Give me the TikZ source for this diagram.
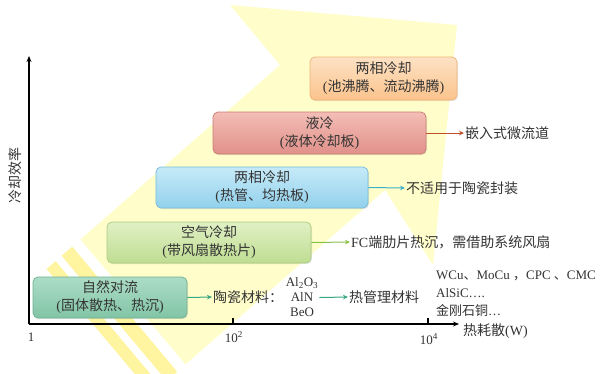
\documentclass[tikz,border=0pt]{standalone}
\usepackage{fontspec}
\setmainfont{Liberation Serif}
\newfontfamily\cjk{Noto Sans CJK SC}
\usetikzlibrary{arrows.meta,shadows}
\definecolor{ybody}{HTML}{FFFECA}
\definecolor{ystripe}{HTML}{FFF4A0}
\definecolor{txt}{HTML}{333333}
\definecolor{orT}{HTML}{FDE2C4}\definecolor{orB}{HTML}{FBC38C}\definecolor{orD}{HTML}{EDB27A}
\definecolor{reT}{HTML}{F3BDB5}\definecolor{reB}{HTML}{E0918A}\definecolor{reD}{HTML}{C97C74}
\definecolor{blT}{HTML}{C6EAF8}\definecolor{blB}{HTML}{92D1EC}\definecolor{blD}{HTML}{74BADA}
\definecolor{grT}{HTML}{E0F0C4}\definecolor{grB}{HTML}{BFDD92}\definecolor{grD}{HTML}{A8CB80}
\definecolor{teT}{HTML}{ACDDC6}\definecolor{teB}{HTML}{82C4A6}\definecolor{teD}{HTML}{6FAF92}
\definecolor{arRe}{HTML}{C0502A}
\definecolor{arBl}{HTML}{3FAFC8}
\definecolor{arGr}{HTML}{8CC04C}
\definecolor{arTe}{HTML}{36A584}
\begin{document}
\begin{tikzpicture}[x=1pt,y=-1pt,
  box/.style n args={3}{rounded corners=5pt, draw=#3, line width=0.7pt,
    top color=#1, bottom color=#2, align=center, text=txt, inner sep=1pt,
    font=\cjk\fontsize{14}{18}\selectfont,
    drop shadow={opacity=0.18, shadow xshift=1pt, shadow yshift=-1.2pt}},
  lbl/.style={anchor=west, inner sep=1pt, text=txt, font=\fontsize{14}{17}\selectfont},
  conn/.style={line width=1pt, -{Stealth[length=5pt,width=4.5pt]}},
  axisline/.style={line width=1.6pt, black},
]
\useasboundingbox (0,0) rectangle (609,373);
% background yellow arrow
\begin{scope}
\clip (0,0) rectangle (609,373);
\fill[ybody]
  (230,5) -- (457,25) -- (433,265) -- (385,190) -- (185.5,364.4)
  -- (80.5,239.4) -- (280,65) -- cycle;
\fill[ystripe] (72.2,246.6) -- (61.6,255.8) -- (166.6,380.8) -- (177.2,371.6) -- cycle;
\fill[ystripe] (55.6,261.1) -- (46.6,269) -- (151.6,394) -- (160.6,386.1) -- cycle;
\end{scope}
% axes
\coordinate (O) at (29,324);
\coordinate (ytop) at (29,56);
\coordinate (xend) at (459,324);
\coordinate (tk2) at (233,324);
\coordinate (tk4) at (428,324);
\draw[axisline, -{Stealth[length=6pt,width=5pt]}] (O) -- (ytop);
\draw[axisline, -{Stealth[length=6pt,width=5pt]}] (O) -- (xend);
\draw[axisline] (tk2) -- ++(0,-6);
\draw[axisline] (tk4) -- ++(0,-6);
\node[text=txt, font=\fontsize{13}{15}\selectfont] (l1) at (31,337) {1};
\node[text=txt, font=\fontsize{13}{15}\selectfont] (l2) at (234,337) {10\textsuperscript{2}};
\node[text=txt, font=\fontsize{13}{15}\selectfont] (l4) at (429,339) {10\textsuperscript{4}};
\node[lbl] (xlab) at (462,331) {{\cjk 热耗散}(W)};
\node[rotate=90, text=txt, font=\cjk\fontsize{14}{15}\selectfont] (ylab) at (15,175) {冷却效率};
% boxes
\node[box={orT}{orB}{orD}, minimum width=147pt, minimum height=43pt] (b1) at (383.5,78.5) {两相冷却\\{\rmfamily (}池沸腾、流动沸腾{\rmfamily )}};
\node[box={reT}{reB}{reD}, minimum width=213pt, minimum height=42pt] (b2) at (319.5,133) {液冷\\{\rmfamily (}液体冷却板{\rmfamily )}};
\node[box={blT}{blB}{blD}, minimum width=212pt, minimum height=41pt] (b3) at (262,187.5) {两相冷却\\{\rmfamily (}热管、均热板{\rmfamily )}};
\node[box={grT}{grB}{grD}, minimum width=204pt, minimum height=41pt] (b4) at (209,242.5) {空气冷却\\{\rmfamily (}带风扇散热片{\rmfamily )}};
\node[box={teT}{teB}{teD}, minimum width=154pt, minimum height=41pt] (b5) at (110,297.5) {自然对流\\{\rmfamily (}固体散热、热沉{\rmfamily )}};
% right-side labels
\node[lbl] (t2) at (464,133) {\cjk 嵌入式微流道};
\node[lbl] (t3) at (405,188) {\cjk 不适用于陶瓷封装};
\node[lbl] (t4) at (350,242) {FC{\cjk 端肋片热沉，需借助系统风扇}};
\node[lbl] (t5) at (212,297) {\cjk 陶瓷材料：};
\node[text=txt, align=center, inner sep=1pt, font=\fontsize{13}{15}\selectfont] (mat) at (302,297.5) {Al\textsubscript{2}O\textsubscript{3}\\AlN\\BeO};
\node[lbl] (t6) at (348,297) {\cjk 热管理材料};
\node[lbl, align=left, font=\fontsize{13}{18}\selectfont] (comp) at (435,294) {WCu{\cjk 、}MoCu {\cjk ，}CPC {\cjk 、}CMC\\AlSiC….\\{\cjk 金刚石铜}…};
% connectors
\draw[conn, arRe] (b2.east) -- (t2.west);
\draw[conn, arBl] (b3.east) -- (t3.west);
\draw[conn, arGr] (b4.east) -- (t4.west);
\draw[conn, arTe] (b5.east) -- (t5.west);
\draw[conn, arTe] (mat.east) -- (t6.west);
\end{tikzpicture}
\end{document}
